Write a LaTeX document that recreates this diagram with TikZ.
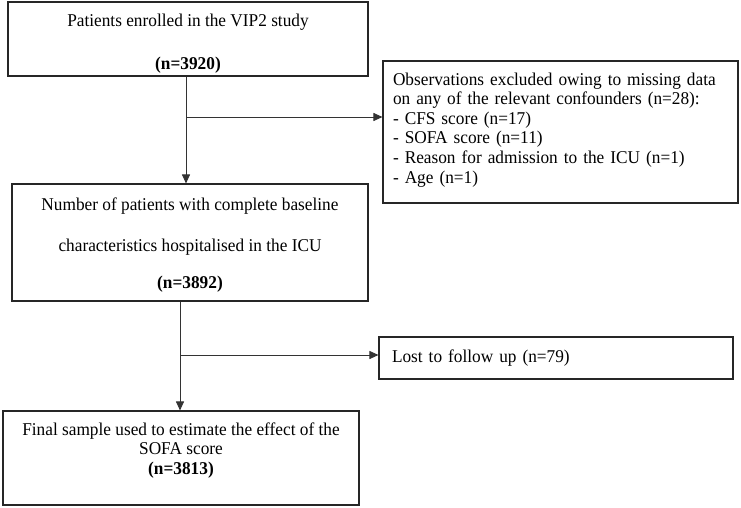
\documentclass[tikz,border=0pt]{standalone}
\usepackage{fontspec}
\setmainfont{Liberation Serif}[FakeStretch=0.96]
\usetikzlibrary{arrows.meta}
\begin{document}
\begin{tikzpicture}[x=1pt,y=-1pt,
  box/.style={draw=black!85, line width=1.1pt, inner sep=0pt, align=center,
    font=\fontsize{18}{19.5}\selectfont},
  lbox/.style={draw=black!85, line width=1.1pt, inner ysep=0pt, align=left,
    font=\fontsize{18}{19.5}\selectfont},
  arr/.style={draw=black!80, line width=0.9pt, -{Triangle[length=9pt,width=8pt]}}]
\useasboundingbox (0,0) rectangle (741,507);
\fill[white] (0,0) rectangle (741,507);
\node[box, minimum width=360pt, minimum height=74pt] (enrol) at (188,39)
  {\rule{0pt}{21pt}Patients enrolled in the VIP2 study\\[23.5pt]\textbf{(n=3920)}};
\node[box, minimum width=356pt, minimum height=117pt] (complete) at (190,242.5)
  {\rule{0pt}{17pt}Number of patients with complete baseline\\[21.5pt]characteristics hospitalised in the ICU\\[17.5pt]\textbf{(n=3892)}};
\node[lbox, inner xsep=10pt, text width=335pt, minimum height=142pt] (excl) at (560.5,132)
  {Observations excluded owing to missing data\\on any of the relevant confounders (n=28):\\- CFS score (n=17)\\- SOFA score (n=11)\\- Reason for admission to the ICU (n=1)\\- Age (n=1)\rule[-8pt]{0pt}{8pt}};
\node[lbox, inner xsep=13pt, text width=328pt, minimum height=42pt] (lost) at (556,358)
  {Lost to follow up (n=79)};
\node[box, minimum width=356pt, minimum height=94pt] (final) at (181,458)
  {\rule{0pt}{19pt}Final sample used to estimate the effect of the\\SOFA score\\\textbf{(n=3813)}\\\strut};
\coordinate (b1) at (186,117);
\coordinate (b2) at (180,355);
\draw[arr] (enrol.south -| b1) -- (complete.north -| b1);
\draw[arr] (b1) -- (excl.west |- b1);
\draw[arr] (complete.south -| b2) -- (final.north -| b2);
\draw[arr] (b2) -- (lost.west |- b2);
\end{tikzpicture}
\end{document}
